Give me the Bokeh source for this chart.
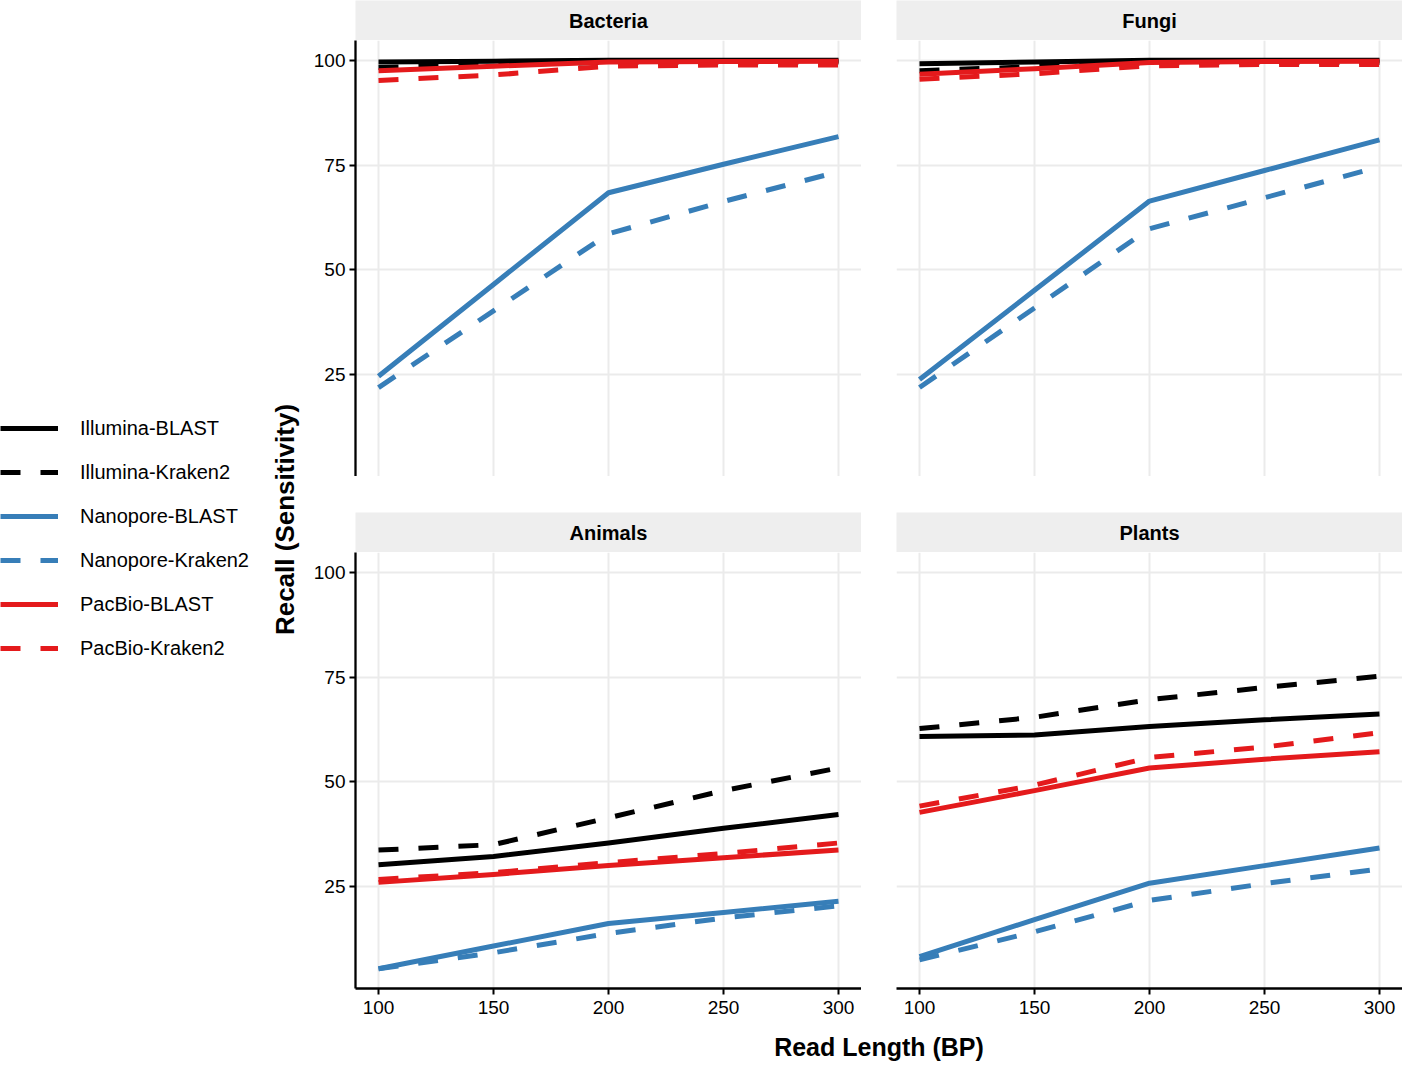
import math
from bokeh.plotting import figure
from bokeh.models import Range1d, Legend, LegendItem, FixedTicker, Spacer
from bokeh.layouts import row, column
from bokeh.embed import file_html
from bokeh.resources import INLINE
from bokeh.core.properties import value

FONT = "Liberation Sans"

# ---------------- data ----------------
read_length = [100, 150, 200, 250, 300]
x_ticks = [100, 150, 200, 250, 300]
y_ticks = [25, 50, 75, 100]

series_names = ["Illumina-BLAST", "Illumina-Kraken2", "Nanopore-BLAST",
                "Nanopore-Kraken2", "PacBio-BLAST", "PacBio-Kraken2"]
series_colors = ["#000000", "#000000", "#377EB8", "#377EB8", "#E41A1C", "#E41A1C"]
series_dash = ["solid", "20 20", "solid", "20 20", "solid", "20 20"]

panel_names = ["Bacteria", "Fungi", "Animals", "Plants"]

bacteria_illumina_blast = [99.6, 99.8, 100.0, 100.0, 100.0]
bacteria_illumina_kraken2 = [98.3, 99.0, 99.5, 99.6, 99.6]
bacteria_nanopore_blast = [24.6, 46.5, 68.4, 75.2, 81.8]
bacteria_nanopore_kraken2 = [21.9, 40.2, 58.6, 66.3, 73.4]
bacteria_pacbio_blast = [97.5, 98.6, 99.6, 99.7, 99.8]
bacteria_pacbio_kraken2 = [95.2, 96.5, 98.6, 98.9, 98.9]

fungi_illumina_blast = [99.2, 99.6, 100.0, 100.0, 100.0]
fungi_illumina_kraken2 = [97.5, 98.5, 99.4, 99.5, 99.5]
fungi_nanopore_blast = [23.8, 45.1, 66.4, 73.7, 81.0]
fungi_nanopore_kraken2 = [21.9, 40.9, 59.8, 67.2, 74.6]
fungi_pacbio_blast = [96.7, 98.0, 99.5, 99.7, 99.8]
fungi_pacbio_kraken2 = [95.5, 96.8, 98.7, 99.0, 99.0]

animals_illumina_blast = [30.2, 32.2, 35.4, 38.9, 42.2]
animals_illumina_kraken2 = [33.7, 35.0, 41.4, 47.9, 53.3]
animals_nanopore_blast = [5.4, 10.8, 16.2, 18.8, 21.5]
animals_nanopore_kraken2 = [5.4, 9.2, 13.8, 17.5, 20.4]
animals_pacbio_blast = [26.0, 27.9, 30.0, 31.9, 33.7]
animals_pacbio_kraken2 = [26.7, 28.3, 30.7, 32.9, 35.4]

plants_illumina_blast = [60.8, 61.2, 63.2, 64.8, 66.2]
plants_illumina_kraken2 = [62.7, 65.4, 69.6, 72.5, 75.2]
plants_nanopore_blast = [8.3, 17.1, 25.8, 30.0, 34.2]
plants_nanopore_kraken2 = [7.5, 14.2, 21.7, 25.7, 29.2]
plants_pacbio_blast = [42.7, 47.9, 53.3, 55.4, 57.2]
plants_pacbio_kraken2 = [44.2, 49.2, 55.8, 58.3, 61.7]

panel_data = {
    "Bacteria": [bacteria_illumina_blast, bacteria_illumina_kraken2, bacteria_nanopore_blast,
                 bacteria_nanopore_kraken2, bacteria_pacbio_blast, bacteria_pacbio_kraken2],
    "Fungi": [fungi_illumina_blast, fungi_illumina_kraken2, fungi_nanopore_blast,
              fungi_nanopore_kraken2, fungi_pacbio_blast, fungi_pacbio_kraken2],
    "Animals": [animals_illumina_blast, animals_illumina_kraken2, animals_nanopore_blast,
                animals_nanopore_kraken2, animals_pacbio_blast, animals_pacbio_kraken2],
    "Plants": [plants_illumina_blast, plants_illumina_kraken2, plants_nanopore_blast,
               plants_nanopore_kraken2, plants_pacbio_blast, plants_pacbio_kraken2],
}

# ggplot-like 5% expansion of shared scales
all_y = [v for lst in panel_data.values() for s in lst for v in s]
ymin, ymax = min(all_y), max(all_y)
ypad = 0.05 * (ymax - ymin)
xmin, xmax = min(read_length), max(read_length)
xpad = 0.05 * (xmax - xmin)

# ---------------- layout sizes ----------------
FRAME_W = 506
FRAME_H = 436
LEFT_B = 50
BOTTOM_B = 32
STRIP_H = 40
GAP_X = 35
GAP_Y = 36
LEG_W = 305
TITLE_H = 42

GRID_COLOR = "#EBEBEB"
STRIP_COLOR = "#EEEEEE"


def style_axis(ax, ticks, standoff):
    ax.ticker = FixedTicker(ticks=ticks)
    ax.axis_line_color = "black"
    ax.axis_line_width = 2.3
    ax.major_tick_line_color = "black"
    ax.major_tick_line_width = 2
    ax.major_tick_out = 6
    ax.major_tick_in = 0
    ax.minor_tick_line_color = None
    ax.major_label_text_font = FONT
    ax.major_label_text_font_size = "19px"
    ax.major_label_text_color = "black"
    ax.major_label_standoff = standoff


def make_panel(name, left, bottom):
    w = FRAME_W + (LEFT_B if left else 0)
    h = FRAME_H + (BOTTOM_B if bottom else 0)
    p = figure(width=w, height=h,
               x_range=Range1d(xmin - xpad, xmax + xpad),
               y_range=Range1d(ymin - ypad, ymax + ypad),
               x_axis_location="below" if bottom else None,
               y_axis_location="left" if left else None,
               output_backend="svg", toolbar_location=None,
               min_border_left=LEFT_B if left else 0,
               min_border_bottom=BOTTOM_B if bottom else 0,
               min_border_top=0, min_border_right=0)
    p.outline_line_color = None
    p.background_fill_color = "white"
    p.border_fill_color = "white"
    p.xgrid.ticker = FixedTicker(ticks=x_ticks)
    p.ygrid.ticker = FixedTicker(ticks=y_ticks)
    for g in (p.xgrid, p.ygrid):
        g.grid_line_color = GRID_COLOR
        g.grid_line_width = 2
        g.minor_grid_line_color = None
    if left:
        style_axis(p.yaxis[0], y_ticks, 4)
    if bottom:
        style_axis(p.xaxis[0], x_ticks, 6)
    for vals, col, dash in zip(panel_data[name], series_colors, series_dash):
        p.line(x=read_length, y=vals, line_color=col, line_width=5,
               line_dash=dash, line_join="round", line_cap="butt")
    return p


def make_strip(name, left):
    w = FRAME_W + (LEFT_B if left else 0)
    s = figure(width=w, height=STRIP_H, x_range=Range1d(0, 1), y_range=Range1d(0, 1),
               x_axis_location=None, y_axis_location=None,
               output_backend="svg", toolbar_location=None,
               min_border_left=LEFT_B if left else 0,
               min_border_bottom=0, min_border_top=0, min_border_right=0)
    s.outline_line_color = None
    s.grid.visible = False
    s.background_fill_color = STRIP_COLOR
    s.border_fill_color = "white"
    s.text(x=[0.5], y=[0.5], text=[name], text_align="center", text_baseline="middle",
           text_font=value(FONT), text_font_style="bold", text_font_size="20px",
           text_color="black")
    return s


strips = [make_strip(n, l) for n, l in zip(panel_names, [True, False, True, False])]
panels = [make_panel(n, l, b) for n, l, b in zip(panel_names,
                                                 [True, False, True, False],
                                                 [False, False, True, True])]

right_block = column(
    row(strips[0], Spacer(width=GAP_X, height=STRIP_H), strips[1]),
    row(panels[0], Spacer(width=GAP_X, height=FRAME_H), panels[1]),
    Spacer(width=FRAME_W * 2 + LEFT_B + GAP_X, height=GAP_Y),
    row(strips[2], Spacer(width=GAP_X, height=STRIP_H), strips[3]),
    row(panels[2], Spacer(width=GAP_X, height=FRAME_H + BOTTOM_B), panels[3]),
)

BLOCK_H = STRIP_H * 2 + FRAME_H * 2 + GAP_Y + BOTTOM_B

# ---------------- legend + y title ----------------
leg = figure(width=LEG_W, height=BLOCK_H, x_range=Range1d(0, LEG_W), y_range=Range1d(0, BLOCK_H),
             x_axis_location=None, y_axis_location=None,
             output_backend="svg", toolbar_location=None,
             min_border_left=0, min_border_right=0, min_border_top=0, min_border_bottom=0)
leg.outline_line_color = None
leg.grid.visible = False
items = []
nan = float("nan")
for name, col, dash in zip(series_names, series_colors, series_dash):
    # legend key only: a single NaN point draws nothing in the plot area
    r = leg.line(x=[nan], y=[nan], line_color=col, line_width=5, line_dash=dash, line_cap="butt")
    items.append(LegendItem(label=name, renderers=[r]))
legend = Legend(items=items, location=(0, 360), orientation="vertical",
                glyph_width=58, glyph_height=24, label_height=24, spacing=20,
                label_standoff=22, padding=0, margin=0,
                border_line_color=None, background_fill_alpha=0,
                label_text_font=FONT, label_text_font_size="20px",
                label_text_color="black")
leg.add_layout(legend)
leg.text(x=[284], y=[BLOCK_H - 519], text=["Recall (Sensitivity)"], angle=math.pi / 2,
         text_align="center", text_baseline="middle", text_font=value(FONT),
         text_font_style="bold", text_font_size="26px", text_color="black")

# ---------------- x title ----------------
TOTAL_W = LEG_W + FRAME_W * 2 + LEFT_B + GAP_X
tfig = figure(width=TOTAL_W, height=TITLE_H, x_range=Range1d(0, TOTAL_W), y_range=Range1d(0, TITLE_H),
              x_axis_location=None, y_axis_location=None,
              output_backend="svg", toolbar_location=None,
              min_border_left=0, min_border_right=0, min_border_top=0, min_border_bottom=0)
tfig.outline_line_color = None
tfig.grid.visible = False
tfig.text(x=[LEG_W + LEFT_B + FRAME_W + GAP_X / 2], y=[TITLE_H - 26], text=["Read Length (BP)"],
          text_align="center", text_baseline="middle", text_font=value(FONT),
          text_font_style="bold", text_font_size="25px", text_color="black")

layout = column(row(leg, right_block), tfig)

open("out.html", "w").write(file_html(layout, INLINE))
